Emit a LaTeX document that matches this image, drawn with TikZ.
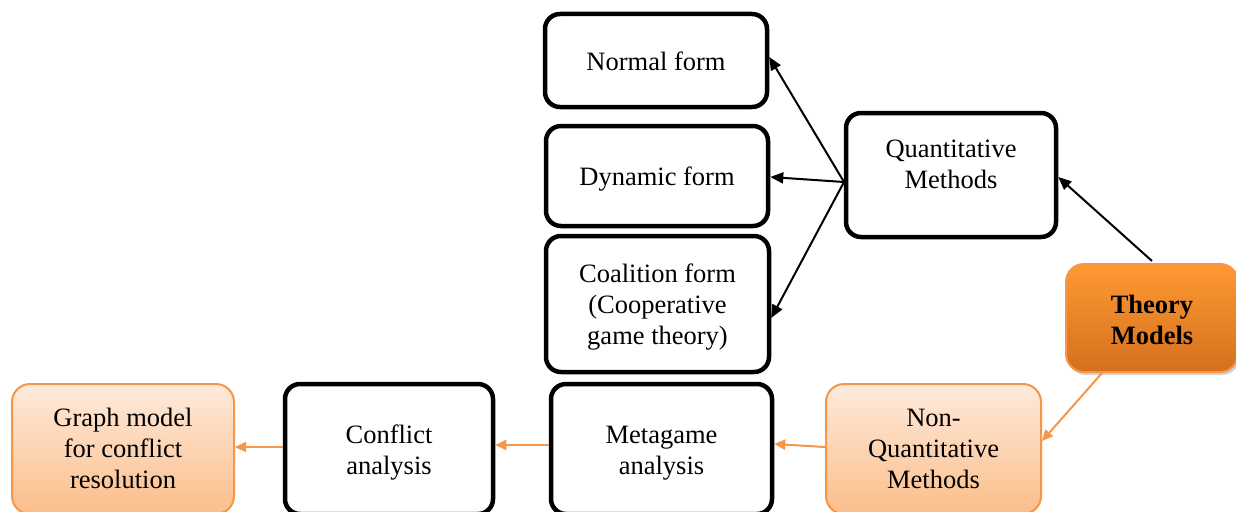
\documentclass[tikz,border=0pt]{standalone}
\usepackage{fontspec}
\setmainfont{Liberation Serif}
\usetikzlibrary{arrows.meta,shadows}
\definecolor{orB}{HTML}{F79646}
\definecolor{orTop}{HTML}{FF9933}
\definecolor{orBot}{HTML}{D4701E}
\definecolor{ltTop}{HTML}{FEEADC}
\definecolor{ltBot}{HTML}{FBBE8A}
\tikzset{
  tl/.style={align=center, font=\fontsize{26.5}{31}\selectfont, inner sep=0pt},
  tlb/.style={tl, font=\fontsize{26.5}{31}\selectfont\bfseries},
  blk/.style={draw=black, line width=4.5pt, rounded corners=15pt, fill=white, inner sep=0pt},
  lt/.style={draw=orB, line width=2pt, rounded corners=18pt, top color=ltTop, bottom color=ltBot, inner sep=0pt},
  dk/.style={draw=orB, line width=2pt, rounded corners=18pt, top color=orTop, bottom color=orBot, inner sep=0pt,
    drop shadow={shadow xshift=2pt, shadow yshift=-3pt, opacity=0.35}},
  barr/.style={draw=black, line width=2pt, -{Triangle[length=13pt,width=11pt]}},
  oarr/.style={draw=orB, line width=2pt, -{Triangle[length=11pt,width=10pt]}},
}
\begin{document}
\begin{tikzpicture}[x=1pt,y=-1pt]
\useasboundingbox (0,0) rectangle (1236,511);
\clip (0,0) rectangle (1236,511);
\node[blk, minimum width=222pt, minimum height=93pt,
  label={[tl,yshift=-1pt]center:{Normal form}}] (nf) at (656,60.5) {};
\node[blk, minimum width=222pt, minimum height=100pt,
  label={[tl,yshift=-3pt]center:{Dynamic form}}] (df) at (657,176) {};
\node[blk, minimum width=223pt, minimum height=136pt,
  label={[tl,yshift=-3pt]center:{Coalition form\\(Cooperative\\game theory)}}] (cf) at (657.5,304) {};
\node[blk, minimum width=210pt, minimum height=124pt,
  label={[tl,yshift=11pt]center:{Quantitative\\Methods}}] (qm) at (951,175) {};
\node[dk, minimum width=172pt, minimum height=108pt,
  label={[tlb,yshift=-2pt]center:{Theory\\Models}}] (tm) at (1152,318) {};
\node[lt, minimum width=215pt, minimum height=130pt,
  label={[tl]center:{Non-\\Quantitative\\Methods}}] (nq) at (933.5,449) {};
\node[blk, minimum width=221pt, minimum height=130pt,
  label={[tl,yshift=-4pt]center:{Metagame\\analysis}}] (ma) at (661.5,449) {};
\node[blk, minimum width=208pt, minimum height=130pt,
  label={[tl,yshift=-4pt]center:{Conflict\\analysis}}] (ca) at (389,449) {};
\node[lt, minimum width=222pt, minimum height=130pt,
  label={[tl,yshift=1pt]center:{Graph model\\for conflict\\resolution}}] (gm) at (123,449) {};
\coordinate (qs) at (844,182);
\draw[barr] (tm.north) ++(0,-2) -- (qm.south east |- 0,177);
\draw[barr] (qs) -- (nf.east |- 0,57);
\draw[barr] (qs) -- (df.east |- 0,177);
\draw[barr] (qs) -- (cf.east |- 0,318);
\draw[oarr] (tm.south) ++(-50,0) -- (nq.east |- 0,441);
\draw[oarr] (nq.west |- 0,447) -- (ma.east |- 0,444);
\draw[oarr] (ma.west |- 0,445) -- (ca.east |- 0,445);
\draw[oarr] (ca.west |- 0,447) -- (gm.east |- 0,447);
\end{tikzpicture}
\end{document}
